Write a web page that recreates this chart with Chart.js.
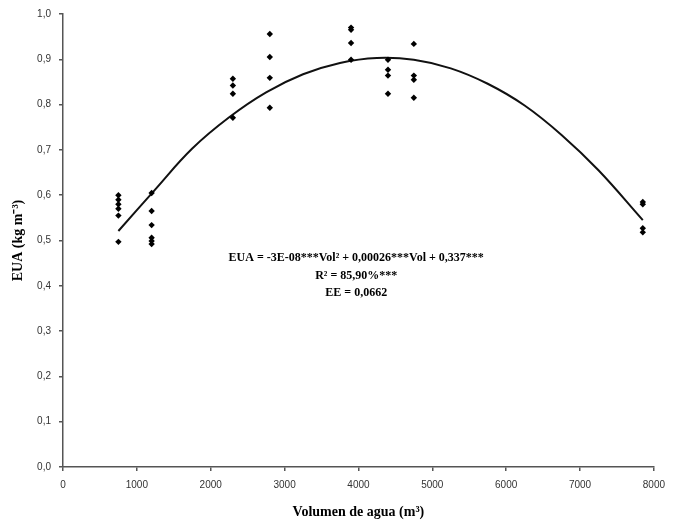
<!DOCTYPE html>
<html>
<head>
<meta charset="utf-8">
<script src="https://cdn.jsdelivr.net/npm/chart.js@4.4.1/dist/chart.umd.min.js"></script>
<style>
  html, body { margin: 0; padding: 0; background: #fff; }
  #wrap { width: 673px; height: 525px; }
</style>
</head>
<body>
<div id="wrap"><canvas id="chart" width="673" height="525"></canvas></div>
<script>
// observed values: water volume (m3) and EUA (kg m-3)
const volumes = [
  750, 750, 750, 750, 750, 750,
  1200, 1200, 1200, 1200, 1200, 1200,
  2300, 2300, 2300, 2300,
  2800, 2800, 2800, 2800,
  3900, 3900, 3900, 3900,
  4400, 4400, 4400, 4400,
  4750, 4750, 4750, 4750,
  7850, 7850, 7850, 7850
];
const euaValues = [
  0.600, 0.590, 0.580, 0.570, 0.555, 0.497,
  0.605, 0.565, 0.534, 0.506, 0.499, 0.492,
  0.857, 0.842, 0.824, 0.771,
  0.956, 0.905, 0.859, 0.793,
  0.970, 0.965, 0.936, 0.899,
  0.899, 0.877, 0.864, 0.824,
  0.934, 0.864, 0.855, 0.815,
  0.585, 0.580, 0.527, 0.518
];

// fitted curve, every ~500 m3
const curveVolumes = [750, 1250, 1750, 2250, 2750, 3250, 3750, 4250, 4750, 5250, 5750, 6250, 6750, 7250, 7850];
const curveValues = [0.521, 0.613, 0.703, 0.772, 0.827, 0.867, 0.892, 0.903, 0.899, 0.880, 0.846, 0.798, 0.733, 0.655, 0.545];

const xTicks = [0, 1000, 2000, 3000, 4000, 5000, 6000, 7000, 8000];
const yTicks = [0, 0.1, 0.2, 0.3, 0.4, 0.5, 0.6, 0.7, 0.8, 0.9, 1.0];

const equationLines = [
  "EUA = -3E-08***Vol\u00B2 + 0,00026***Vol + 0,337***",
  "R\u00B2 = 85,90%***",
  "EE = 0,0662"
];

const axisColor = "#555";
const tickFont = { family: "'Liberation Sans', Arial, sans-serif", size: 10 };
const titleFont = { family: "'Liberation Serif', 'Times New Roman', serif", size: 14, weight: "bold" };

const equationPlugin = {
  id: "equation",
  afterDraw(chart) {
    const ctx = chart.ctx;
    const x = chart.scales.x.getPixelForValue(3970);
    const y0 = chart.scales.y.getPixelForValue(0.462);
    ctx.save();
    ctx.fillStyle = "#000";
    ctx.font = "bold 12px 'Liberation Serif', 'Times New Roman', serif";
    ctx.textAlign = "center";
    ctx.textBaseline = "middle";
    const gaps = [0, 18, 35];
    equationLines.forEach((line, i) => {
      ctx.fillText(line, x, y0 + gaps[i]);
    });
    ctx.restore();
  }
};

const points = volumes.map((v, i) => ({ x: v, y: euaValues[i] }));
const curve = curveVolumes.map((v, i) => ({ x: v, y: curveValues[i] }));

new Chart(document.getElementById("chart").getContext("2d"), {
  type: "scatter",
  data: {
    datasets: [
      {
        label: "EUA",
        data: points,
        pointStyle: "rectRot",
        pointRadius: 3.2,
        backgroundColor: "#000",
        borderColor: "#000",
        borderWidth: 0
      },
      {
        label: "Ajuste",
        type: "line",
        data: curve,
        showLine: true,
        borderColor: "#111",
        borderWidth: 2,
        pointRadius: 0,
        tension: 0.4,
        fill: false
      }
    ]
  },
  options: {
    responsive: false,
    animation: false,
    layout: { padding: { top: 12, right: 17, left: 6, bottom: 0 } },
    plugins: {
      legend: { display: false },
      tooltip: { enabled: false }
    },
    scales: {
      x: {
        type: "linear",
        min: 0,
        max: 8000,
        afterFit(scale) { scale.height = 58; },
        afterBuildTicks(scale) { scale.ticks = xTicks.map((v) => ({ value: v })); },
        ticks: { font: tickFont, color: "#333", padding: 8, callback: (v) => String(v) },
        grid: { drawOnChartArea: false, drawTicks: true, tickLength: 4, color: axisColor, lineWidth: 1.5 },
        border: { display: true, color: axisColor, width: 1.5 },
        title: { display: true, text: "Volumen de agua (m\u00B3)", font: titleFont, color: "#000", padding: { top: 8 } }
      },
      y: {
        type: "linear",
        min: 0,
        max: 1,
        afterFit(scale) { scale.width = 57; },
        afterBuildTicks(scale) { scale.ticks = yTicks.map((v) => ({ value: v })); },
        ticks: {
          font: tickFont,
          color: "#333",
          padding: 8,
          callback: (v) => v.toFixed(1).replace(".", ",")
        },
        grid: { drawOnChartArea: false, drawTicks: true, tickLength: 4, color: axisColor, lineWidth: 1.5 },
        border: { display: true, color: axisColor, width: 1.5 },
        title: { display: true, text: "EUA (kg m\u207B\u00B3)", font: titleFont, color: "#000", padding: { bottom: 4 } }
      }
    }
  },
  plugins: [equationPlugin]
});
</script>
</body>
</html>
